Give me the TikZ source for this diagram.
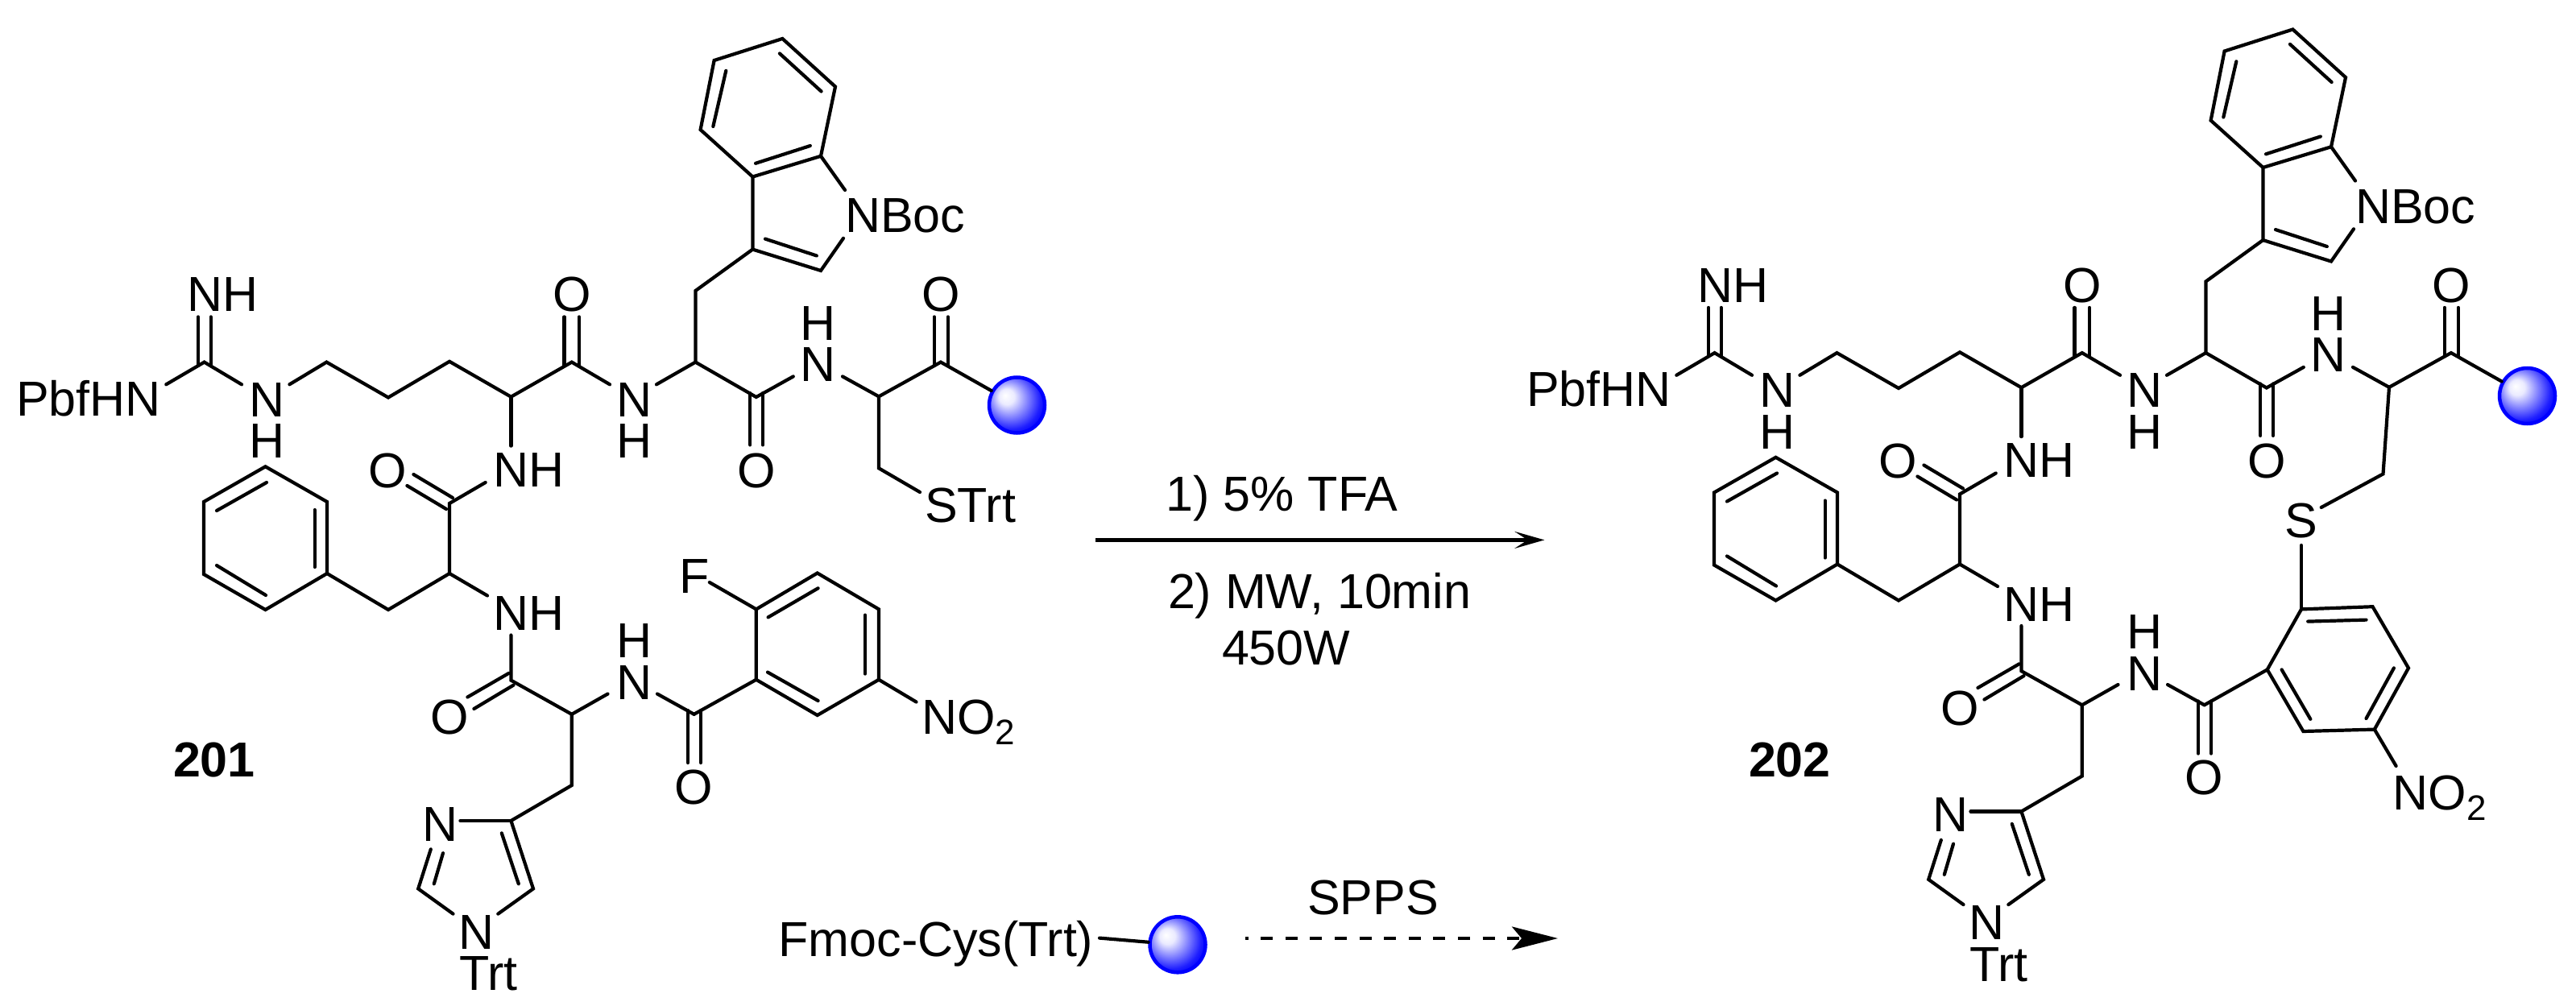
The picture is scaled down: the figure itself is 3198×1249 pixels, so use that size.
\documentclass[tikz,border=0pt]{standalone}
\usepackage{fontspec}
\setmainfont{Liberation Sans}
\usetikzlibrary{arrows.meta}
\pgfdeclareradialshading{beadball}{\pgfpoint{-10.8bp}{8.8bp}}{color(0bp)=(white); color(7bp)=(white!92!blue); color(15bp)=(white!58!blue); color(26bp)=(white!12!blue); color(31bp)=(blue); color(50bp)=(blue)}
\tikzset{
  bond/.style={line width=4.2pt,line cap=round,line join=miter,black},
  lbl/.style={inner sep=0pt,outer sep=0pt,anchor=base west,font=\fontsize{61}{61}\selectfont},
  lblc/.style={inner sep=0pt,outer sep=0pt,anchor=base,font=\fontsize{61}{61}\selectfont},
  cmpd/.style={inner sep=0pt,outer sep=0pt,anchor=base west,font=\fontsize{61}{61}\selectfont\bfseries},
  beadnode/.style={circle,draw=blue,line width=4.5pt,minimum size=69pt,inner sep=0pt,outer sep=2pt,shading=beadball},
  rxn/.style={line width=4.2pt,black,-{Stealth[length=37pt,width=21pt,inset=16pt]}},
  rxndash/.style={line width=4pt,black,dash pattern=on 15pt off 15.6pt,dash phase=11pt,-{Stealth[length=57pt,width=29pt,inset=12pt]}}
}
\newcommand{\subtwo}{\raisebox{-13pt}{\fontsize{44}{44}\selectfont 2}}
\newcommand{\pepcore}{%
  % labels
  \node[lbl] (pbf) at (20,516) {PbfHN};
  \node[lbl] (nhtop) at (232,386.7) {NH};
  \node[lbl] (n1) at (309.2,517) {N};
  \node[lbl] (h1) at (309.2,568.6) {H};
  \node[lblc] (o1) at (709.8,386.7) {O};
  \node[lbl] (n2) at (765.4,517) {N};
  \node[lbl] (h2) at (765.4,568.6) {H};
  \node[lbl] (nboc) at (1049,288.6) {NBoc};
  \node[lblc] (o2) at (938.8,605) {O};
  \node[lbl] (n3) at (993.6,473.3) {N};
  \node[lbl] (h3) at (993.6,422.3) {H};
  \node[lblc] (o3) at (1167.9,386.7) {O};
  \node[lblc] (o4) at (481,605) {O};
  \node[lbl] (nh4) at (612.4,604) {NH};
  \node[lbl] (nh5) at (612.4,782.5) {NH};
  \node[lblc] (o5) at (558.5,911.6) {O};
  \node[lbl] (n6) at (765.4,868.7) {N};
  \node[lbl] (h6) at (765.4,816.5) {H};
  \node[lblc] (o6) at (861.6,998) {O};
  \node[lbl] (n7) at (524.4,1044) {N};
  \node[lbl] (n8) at (569.9,1178.4) {N};
  \node[lbl] (trt) at (570,1229.7) {Trt};
  \node[beadnode] (bead) at (1262.5,503) {};
  % skeleton points and bond ends
  \foreach \n/\x/\y in {gC/253.6/449.6,ga/206.3/477.3,gb/300/477.3,gc/359.4/477.3,
    gda/246/393.4,gdb/246/454,gdc/261.6/393.4,gdd/261.6/454,
    ca/405.4/449.6,cb/482/493.5,cc/558/448.8,cd/634.4/492.7,ce/709.8/449.6,
    cda/634.4/553.6,oaa/700.5/393.4,oab/700.5/454,oac/719/393.4,oad/719/454,
    na/757/477.3,nb/815/477.3,tr/863.4/449.6,tb/863.4/361,
    i1/934.4/309.6,i2/934.4/219.5,i3/1019/193.8,i4/1019/336,i5/1049/236,i6/1047/295.8,
    i7/950/296.6,i8/1013.8/317.5,
    z1/869.6/161,z2/886.6/75,z3/971.4/48,z4/1037/107.6,
    y1/938/202.8,y2/1005.8/181,y3/885.3/157,y4/901.3/87.8,y5/967.9/66.4,y6/1019.6/113.5,
    cf/938.8/493,oba/931.3/488,obb/931.3/552.4,obc/946.9/488,obd/946.9/552.4,
    nc/984.8/467.4,nd/1046/467.4,cy/1091/492.3,cg/1167.9/449.6,
    oca/1159.8/393.4,ocb/1159.8/454,occ/1176.8/393.4,ocd/1176.8/454,
    ph1/329.5/579.3,ph2/406/623,ph3/406/712,ph4/329.5/757,ph5/253/713,ph6/253/623,
    x1/390.6/633,x2/390.6/704,x3/269/702,x4/330/739,x5/331/599,x6/269/634,
    ch/482/757,cj/558/712,ck/558/625,nf/602.7/599,ne/605/739.5,
    oda/513.4/589,odb/562/618,odc/505.4/603,odd/554/632,
    ng/634.4/788.5,cl/634.4/844.6,oea/580.4/865.5,oeb/631.7/835.8,oec/588.4/880,oed/637.5/850.6,
    cm/709.8/886.8,nh/754.5/861.5,ni/816/861.5,am/861.6/886.8,
    ofa/854/882,ofb/854/947,ofc/870/882,ofd/870/947,
    cn/709.8/975,m4/634.4/1019,mn/571.4/1019,m5/662/1103.4,
    mi/622.8/1034.4,mj/643.8/1097.3,mk/618.3/1134.6,m2/519.2/1103.4,ml/534.8/1054.4,
    mm/550/1059.2,mo/538.8/1097.3,mp/562.5/1134.6}
    {\coordinate (\n) at (\x,\y);}
  % arginine side chain
  \draw[bond] (ga)--(gC)--(gb);
  \draw[bond] (gda)--(gdb);
  \draw[bond] (gdc)--(gdd);
  \draw[bond] (gc)--(ca)--(cb)--(cc)--(cd)--(ce)--(na);
  \draw[bond] (cd)--(cda);
  \draw[bond] (oaa)--(oab);
  \draw[bond] (oac)--(oad);
  % tryptophan
  \draw[bond] (nb)--(tr)--(tb)--(i1)--(i2)--(z1)--(z2)--(z3)--(z4)--(i3)--(i5);
  \draw[bond] (i2)--(i3);
  \draw[bond] (i6)--(i4)--(i1);
  \draw[bond] (i7)--(i8);
  \draw[bond] (y1)--(y2);
  \draw[bond] (y3)--(y4);
  \draw[bond] (y5)--(y6);
  \draw[bond] (tr)--(cf)--(nc);
  \draw[bond] (oba)--(obb);
  \draw[bond] (obc)--(obd);
  % cysteine
  \draw[bond] (nd)--(cy)--(cg)--(bead);
  \draw[bond] (oca)--(ocb);
  \draw[bond] (occ)--(ocd);
  % phenylalanine
  \draw[bond] (ph1)--(ph2)--(ph3)--(ph4)--(ph5)--(ph6)--cycle;
  \draw[bond] (x1)--(x2);
  \draw[bond] (x3)--(x4);
  \draw[bond] (x5)--(x6);
  \draw[bond] (ph3)--(ch)--(cj)--(ck)--(nf);
  \draw[bond] (cj)--(ne);
  \draw[bond] (oda)--(odb);
  \draw[bond] (odc)--(odd);
  % histidine
  \draw[bond] (ng)--(cl)--(cm)--(nh);
  \draw[bond] (oea)--(oeb);
  \draw[bond] (oec)--(oed);
  \draw[bond] (ni)--(am);
  \draw[bond] (ofa)--(ofb);
  \draw[bond] (ofc)--(ofd);
  \draw[bond] (cm)--(cn)--(m4)--(m5)--(mk);
  \draw[bond] (mn)--(m4);
  \draw[bond] (mi)--(mj);
  \draw[bond] (ml)--(m2)--(mp);
  \draw[bond] (mm)--(mo);
}
\begin{document}
\begin{tikzpicture}[x=1pt,y=-1pt]
\useasboundingbox (0,0) rectangle (3198,1249);
% ---------- compound 201
\begin{scope}
  \pepcore
\end{scope}
\node[lbl] (strt) at (1148.2,648) {STrt};
\node[lbl] (fl) at (843.8,736.3) {F};
\node[lbl] (no2l) at (1144,911.6) {NO\subtwo};
\foreach \n/\x/\y in {lcb/1091/581.3,lcc/1142/611,
    la1/938.8/756.4,la2/1014.7/711.5,la3/1091/756.4,la4/1091/843.8,la5/1014.7/888,la6/938.8/843.8,
    lf/880.8/723,ln/1137.5/871.5,
    lx1/953.6/766.4,lx2/1015.6/730.3,lx3/1074/763.6,lx4/1074/836.6,lx5/953/834.6,lx6/1015.6/870}
    {\coordinate (\n) at (\x,\y);}
\draw[bond] (cy)--(lcb)--(lcc);
\draw[bond] (am)--(la6);
\draw[bond] (la6)--(la1)--(la2)--(la3)--(la4)--(la5)--cycle;
\draw[bond] (lf)--(la1);
\draw[bond] (la4)--(ln);
\draw[bond] (lx1)--(lx2);
\draw[bond] (lx3)--(lx4);
\draw[bond] (lx5)--(lx6);
\node[cmpd] (c201) at (215,964) {201};
% ---------- compound 202
\begin{scope}[shift={(1875,-11.5)},name prefix=r-]
  \pepcore
\end{scope}
\node[lblc] (sr) at (2857,667) {S};
\node[lbl] (no2r) at (2970.8,1005.9) {NO\subtwo};
\foreach \n/\x/\y in {rcb/2958.5/588.4,rcc/2881.7/630,rsd/2857/677,
    ra1/2857/756.4,ra2/2945.5/753.2,ra3/2990/829.4,ra4/2947.8/905.6,ra5/2859.4/908,ra6/2814.7/831.4,
    rn/2974.6/951,
    rx1/2865.2/771.6,rx2/2937.5/769.6,rx3/2971.9/829.4,rx4/2937.5/892,rx5/2832.6/831.4,rx6/2868.3/892.8}
    {\coordinate (\n) at (\x,\y);}
\draw[bond] (r-cy)--(rcb)--(rcc);
\draw[bond] (rsd)--(ra1);
\draw[bond] (r-am)--(ra6);
\draw[bond] (ra6)--(ra1)--(ra2)--(ra3)--(ra4)--(ra5)--cycle;
\draw[bond] (ra4)--(rn);
\draw[bond] (rx1)--(rx2);
\draw[bond] (rx3)--(rx4);
\draw[bond] (rx5)--(rx6);
\node[cmpd] (c202) at (2171,964) {202};
% ---------- reaction arrow
\coordinate (aS) at (1360,670.4);
\coordinate (aE) at (1917.4,670.4);
\draw[rxn] (aS)--(aE);
\node[lbl] (r1) at (1447.5,634.7) {1) 5\% TFA};
\node[lbl] (r2) at (1450,755) {2) MW, 10min};
\node[lbl] (r3) at (1517,825) {450W};
% ---------- bottom scheme
\node[lbl] (fmoc) at (966.5,1187.6) {Fmoc-Cys(Trt)};
\node[beadnode] (beadb) at (1462,1172.8) {};
\coordinate (fe) at (1365,1164.6);
\draw[bond] (fe)--(beadb);
\node[lbl] (spps) at (1623,1135.4) {SPPS};
\coordinate (dS) at (1545.5,1165);
\coordinate (dE) at (1934,1165);
\draw[rxndash] (dS)--(dE);
\end{tikzpicture}
\end{document}
